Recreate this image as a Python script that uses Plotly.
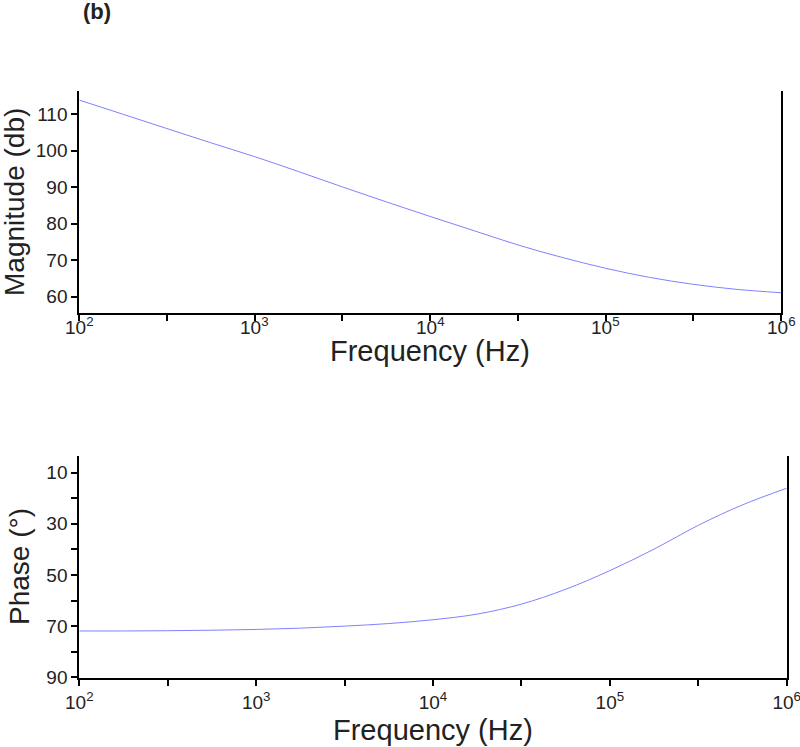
import math

import plotly.graph_objects as go

# ── Data ──────────────────────────────────────────────────────
freq_hz = [100, 178, 316, 562, 1000, 1778, 3162, 5623, 10000, 17783, 31623,
           56234, 100000, 177828, 316228, 562341, 1000000]
magnitude_db = [113.9, 110.0, 106.1, 102.2, 98.4, 94.3, 90.1, 86.0, 82.0, 78.1,
                74.2, 70.8, 67.8, 65.3, 63.4, 62.0, 61.1]
phase_deg = [71.9, 71.9, 71.8, 71.6, 71.3, 70.8, 70.0, 69.0, 67.5, 65.3,
             61.4, 55.6, 48.3, 39.9, 30.6, 22.6, 16.1]

x_tickvals = [100, 316, 1000, 3162, 10000, 31623, 100000, 316228, 1000000]
x_ticktext = ["10<sup>2</sup>", "", "10<sup>3</sup>", "", "10<sup>4</sup>", "",
              "10<sup>5</sup>", "", "10<sup>6</sup>"]
mag_tickvals = [60, 70, 80, 90, 100, 110]
phase_tickvals = [10, 20, 30, 40, 50, 60, 70, 80, 90]
phase_ticktext = ["10", "", "30", "", "50", "", "70", "", "90"]

# ── Style ─────────────────────────────────────────────────────
_FONT = "Liberation Sans, Arial, sans-serif"
_TXT = "#222222"
_LINE = "#8080ff"
W, H = 800, 747


def px(x):
    return x / W


def py(y):
    return 1 - y / H


_axis = dict(
    showline=True,
    linecolor="black",
    linewidth=2,
    ticks="outside",
    ticklen=6,
    tickwidth=2,
    tickcolor="black",
    showgrid=False,
    zeroline=False,
    tickfont=dict(family=_FONT, size=19, color=_TXT),
    ticklabeloverflow="allow",
    automargin=False,
)

fig = go.Figure()
fig.add_trace(go.Scatter(
    x=freq_hz, y=magnitude_db, mode="lines", line=dict(color=_LINE, width=1, shape="spline"),
    xaxis="x", yaxis="y", showlegend=False,
))
fig.add_trace(go.Scatter(
    x=freq_hz, y=phase_deg, mode="lines", line=dict(color=_LINE, width=1, shape="spline"),
    xaxis="x2", yaxis="y2", showlegend=False,
))

fig.update_layout(
    width=W,
    height=H,
    paper_bgcolor="white",
    plot_bgcolor="white",
    margin=dict(l=0, r=0, t=0, b=0),
    font=dict(family=_FONT, color=_TXT),
    # top panel: tick labels sit tighter to the axis, drawn below as annotations
    xaxis=dict(**_axis, type="log", range=[2, 6], domain=[px(79.3), px(781)],
               anchor="y", tickvals=x_tickvals, showticklabels=False),
    yaxis=dict(**_axis, range=[55.45, 116.4], domain=[py(313.3), py(91)],
               anchor="x", tickvals=mag_tickvals, mirror=True),
    xaxis2=dict(**_axis, type="log", range=[2, 6], domain=[px(79.3), px(786.7)],
                anchor="y2", tickvals=x_tickvals, ticktext=x_ticktext),
    yaxis2=dict(**_axis, range=[90.4, 3.5], domain=[py(678.3), py(456)],
                anchor="x2", tickvals=phase_tickvals, ticktext=phase_ticktext, mirror=True),
)

for v, t in zip(x_tickvals, x_ticktext):
    if t:
        fig.add_annotation(
            text=t, x=math.log10(v), y=py(326), xref="x", yref="paper",
            xanchor="center", yanchor="middle", showarrow=False,
            font=dict(family=_FONT, size=19, color=_TXT),
        )

# axis titles and panel label as annotations for exact placement
notes = [
    dict(text="<b>(b)</b>", x=97, y=12, size=22, angle=0),
    dict(text="Magnitude (db)", x=14, y=202, size=28, angle=-90),
    dict(text="Frequency (Hz)", x=430, y=351, size=29, angle=0),
    dict(text="Phase (°)", x=19, y=567, size=28, angle=-90),
    dict(text="Frequency (Hz)", x=433, y=730, size=29, angle=0),
]
for n in notes:
    fig.add_annotation(
        text=n["text"], x=px(n["x"]), y=py(n["y"]), xref="paper", yref="paper",
        xanchor="center", yanchor="middle", showarrow=False, textangle=n["angle"],
        font=dict(family=_FONT, size=n["size"], color=_TXT),
    )

# drop the page's default body margin so the figure sits at the window corner
fig.write_html("out.html", config={"displayModeBar": False},
               post_script="document.body.style.margin='0';")
